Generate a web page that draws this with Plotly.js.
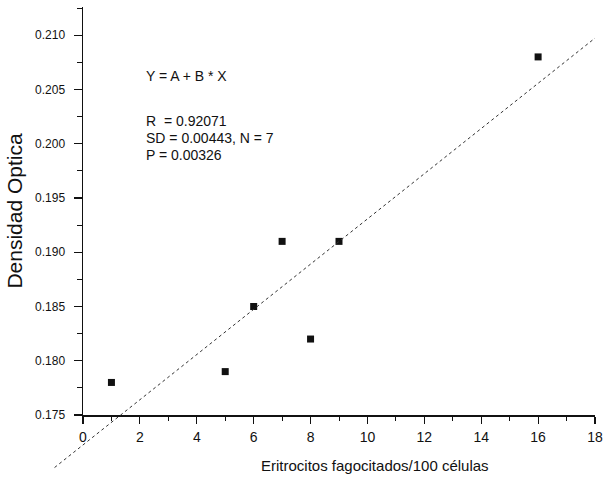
<!DOCTYPE html>
<html>
<head>
<meta charset="utf-8">
<script src="https://cdn.plot.ly/plotly-3.0.1.min.js"></script>
<style>html,body{margin:0;padding:0;background:#fff;}#chart{width:606px;height:480px;}</style>
</head>
<body>
<div id="chart"></div>
<script>
// Data
const xVals = [1, 5, 6, 7, 8, 9, 16];
const yVals = [0.178, 0.179, 0.185, 0.191, 0.182, 0.191, 0.208];
const fitXEnds = [-1, 18];
const statLines = ["Y = A + B * X", "R  = 0.92071", "SD = 0.00443, N = 7", "P = 0.00326"];
const xTitle = "Eritrocitos fagocitados/100 células";
const yTitle = "Densidad Optica";

// Least-squares fit of the data (line drawn through the library's scales)
const n = xVals.length;
const mx = xVals.reduce((a, b) => a + b, 0) / n;
const my = yVals.reduce((a, b) => a + b, 0) / n;
let sxy = 0, sxx = 0;
for (let i = 0; i < n; i++) { sxy += (xVals[i] - mx) * (yVals[i] - my); sxx += (xVals[i] - mx) ** 2; }
const B = sxy / sxx, A = my - B * mx;
const fitY = fitXEnds.map(x => A + B * x);

// Geometry
const W = 606, H = 480;
const M = {l: 40, r: 11, t: 7, b: 10};
const plotL = 83, plotR = 595, plotT = 7, plotB = 415;
const xr = [0, 18], yr = [0.175, 0.2126];
const paperW = W - M.l - M.r, paperH = H - M.t - M.b;
const xDomLo = (plotL - M.l) / paperW;
const yDomLo = ((H - M.b) - plotB) / paperH;
const pxPerX = (plotR - plotL) / (xr[1] - xr[0]);
const pxPerY = (plotB - plotT) / (yr[1] - yr[0]);
const x2r = [xr[0] - (plotL - M.l) / pxPerX, xr[1]];
const y2r = [yr[0] - ((H - M.b) - plotB) / pxPerY, yr[1]];

const font = "Liberation Sans, Arial, sans-serif";

const traces = [
  {x: xVals, y: yVals, type: 'scatter', mode: 'markers', xaxis: 'x', yaxis: 'y',
   marker: {symbol: 'square', size: 7, color: '#111'}, cliponaxis: false},
  {x: fitXEnds, y: fitY, type: 'scatter', mode: 'lines', xaxis: 'x2', yaxis: 'y2',
   line: {color: '#333', width: 1, dash: 'dot'}}
];

const annotations = statLines.map((t, i) => ({
  text: t, xref: 'x', yref: 'y', x: 2.15,
  y: [0.2062, 0.2021, 0.2005, 0.1990][i],
  xanchor: 'left', yanchor: 'middle', showarrow: false,
  font: {family: font, size: 14, color: '#111'}
}));
// x-axis title (offset to the right as in the reference)
annotations.push({
  text: xTitle, xref: 'x', yref: 'paper', x: 10.25, y: ((H - M.b) - 465) / paperH,
  xanchor: 'center', yanchor: 'middle', showarrow: false,
  font: {family: font, size: 15, color: '#111'}
});

const layout = {
  width: W, height: H, margin: M,
  paper_bgcolor: '#fff', plot_bgcolor: 'rgba(0,0,0,0)',
  showlegend: false,
  font: {family: font, color: '#111'},
  xaxis: {domain: [xDomLo, 1], range: xr, anchor: 'y',
    showline: true, linecolor: '#111', linewidth: 1.5, mirror: false,
    showgrid: false, zeroline: false,
    ticks: 'outside', ticklen: 7, tickwidth: 1.2, tickcolor: '#111',
    tick0: 0, dtick: 2, ticklabelstandoff: 2,
    minor: {dtick: 1, ticks: 'outside', ticklen: 4, tickwidth: 1, tickcolor: '#111'},
    tickfont: {family: font, size: 14, color: '#111'}},
  yaxis: {domain: [yDomLo, 1], range: yr, anchor: 'x',
    showline: true, linecolor: '#111', linewidth: 1.5,
    showgrid: false, zeroline: false,
    ticks: 'outside', ticklen: 8, tickwidth: 1.2, tickcolor: '#111',
    tick0: 0.175, dtick: 0.005, tickformat: '.3f', ticklabelstandoff: 6,
    minor: {dtick: 0.0025, ticks: 'outside', ticklen: 5, tickwidth: 1, tickcolor: '#111'},
    tickfont: {family: font, size: 12, color: '#111'},
    title: {text: yTitle, font: {family: font, size: 21, color: '#111'}, standoff: 6}},
  xaxis2: {domain: [0, 1], range: x2r, anchor: 'y2', visible: false, fixedrange: true},
  yaxis2: {domain: [0, 1], range: y2r, anchor: 'x2', visible: false, fixedrange: true},
  annotations: annotations
};

Plotly.newPlot('chart', traces, layout, {displayModeBar: false, staticPlot: true});
</script>
</body>
</html>
